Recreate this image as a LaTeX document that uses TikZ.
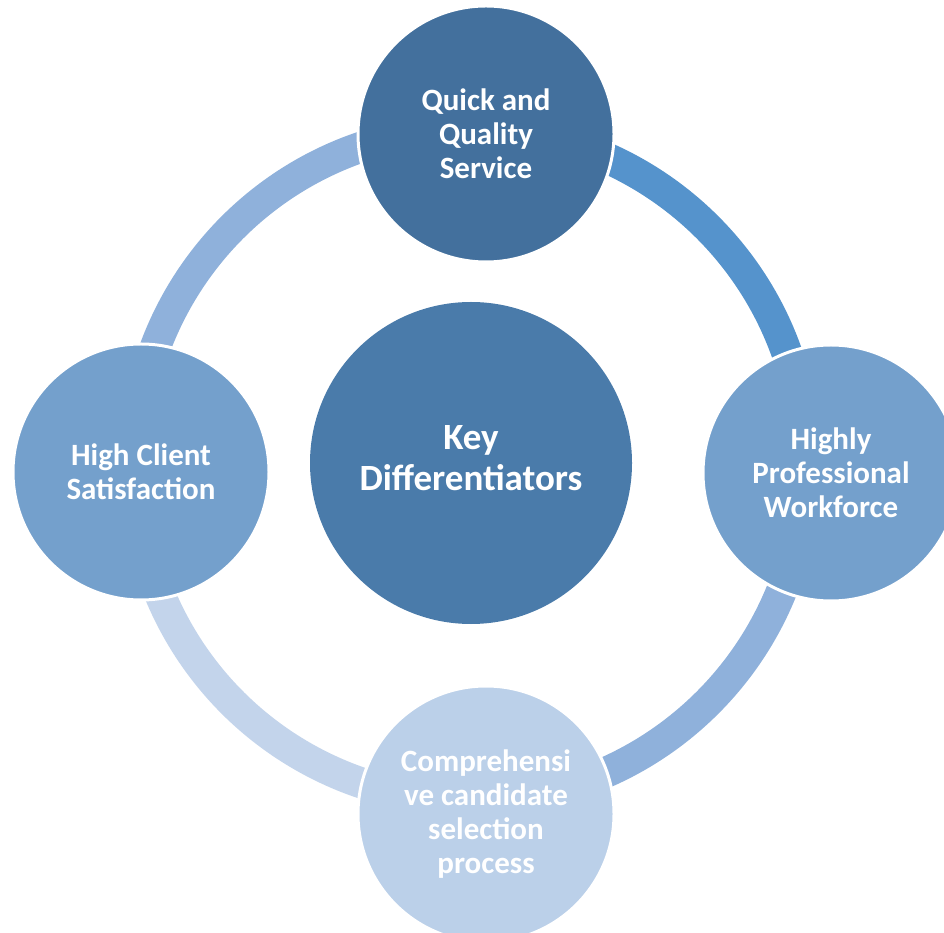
\documentclass[tikz,border=0pt]{standalone}
\usepackage{fontspec}
\setmainfont{Carlito}
\definecolor{cTop}{RGB}{67,112,157}
\definecolor{cMid}{RGB}{74,123,170}
\definecolor{cSide}{RGB}{116,160,204}
\definecolor{cBot}{RGB}{187,208,233}
\definecolor{rA}{RGB}{85,147,204}
\definecolor{rB}{RGB}{143,177,219}
\definecolor{rC}{RGB}{195,212,235}
\begin{document}
\begin{tikzpicture}[x=1pt,y=1pt,
  sat/.style={circle, draw=white, line width=3pt, minimum size=256pt, inner sep=0pt,
    text=white, align=center, font=\fontsize{31}{34}\selectfont\bfseries},
  hub/.style={circle, minimum size=322pt, inner sep=0pt, fill=cMid},
  hubtext/.style={text=white, align=center, yshift=5pt, font=\fontsize{37}{41}\selectfont\bfseries},
  ringseg/.style={line width=31pt}]
\useasboundingbox (0,0) rectangle (944,932);
\clip (0,0) rectangle (944,932);
\coordinate (ringc) at (470,467);
\coordinate (rtop) at ([shift={(87:336pt)}]ringc);
\coordinate (rright) at ([shift={(-1:336pt)}]ringc);
\coordinate (rbottom) at ([shift={(-87:336pt)}]ringc);
\coordinate (rleft) at ([shift={(181:336pt)}]ringc);
% ring segments
\draw[ringseg, draw=rA] (rtop) arc[start angle=87, end angle=-1, radius=336pt];
\draw[ringseg, draw=rB] (rright) arc[start angle=-1, end angle=-87, radius=336pt];
\draw[ringseg, draw=rC] (rbottom) arc[start angle=273, end angle=181, radius=336pt];
\draw[ringseg, draw=rB] (rleft) arc[start angle=181, end angle=87, radius=336pt];
% nodes
\node[hub, label={[hubtext]center:Key\\Differentiators}] (hub) at (471,469) {};
\node[sat, fill=cTop] (top) at (486,798) {Quick and\\Quality\\Service};
\node[sat, fill=cSide] (right) at (831,459) {Highly\\Professional\\Workforce};
\node[sat, fill=cBot] (bottom) at (486,118) {Comprehensi\\ve candidate\\selection\\process};
\node[sat, fill=cSide] (left) at (141,460) {High Client\\Satisfaction};
\end{tikzpicture}
\end{document}
